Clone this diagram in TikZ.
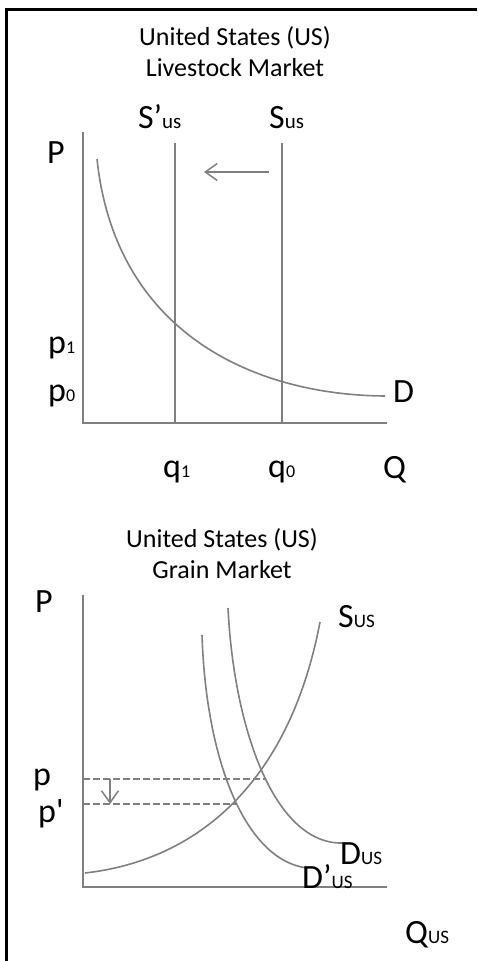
\documentclass[tikz,border=0pt]{standalone}
\usepackage{fontspec}
\setmainfont{Carlito}
\usetikzlibrary{arrows.meta}
\definecolor{ln}{HTML}{808080}
\newcommand\LabF{\fontsize{34}{34}\selectfont}
\newcommand\SubF{\fontsize{21}{21}\selectfont}
\newcommand\NumF{\fontsize{18}{18}\selectfont}
\newcommand\CapF{\fontsize{19}{19}\selectfont}
\newcommand\TitF{\fontsize{26}{30}\selectfont}
\begin{document}
\begin{tikzpicture}[x=1pt,y=-1pt,
 lab/.style={anchor=base west,inner sep=0pt,text=black,font=\LabF},
 title/.style={anchor=base,inner sep=0pt,font=\TitF},
 axis/.style={draw=ln,line width=2pt},
 curve/.style={draw=ln,line width=1.6pt},
 guide/.style={draw=ln,line width=1.5pt,dash pattern=on 7pt off 3pt},
 shiftarrow/.style={draw=ln,line width=1.5pt,-{Straight Barb[length=12pt,width=17pt]}},
 frame/.style={draw=black,line width=3pt}]
\useasboundingbox (0,0) rectangle (477,961);
\fill[white] (0,0) rectangle (477,961);
\draw[frame] (6.5,961) -- (6.5,9.5) -- (477,9.5);

% ---------- Livestock market ----------
\node[title] (t1a) at (235,45) {United States (US)};
\node[title] (t1b) at (235,76) {Livestock Market};
\coordinate (ytop1) at (83,132);
\coordinate (o1) at (83,423);
\coordinate (xend1) at (387,423);
\draw[axis] (ytop1) -- (o1) -- (xend1);
\coordinate (s1t) at (175,143); \coordinate (s1b) at (175,423);
\coordinate (s0t) at (282,143); \coordinate (s0b) at (282,423);
\draw[curve] (s1t) -- (s1b);
\draw[curve] (s0t) -- (s0b);
\coordinate (a1s) at (269,172); \coordinate (a1e) at (204,172);
\draw[shiftarrow] (a1s) -- (a1e);
\coordinate (d1s) at (97,159); \coordinate (d1e) at (385,396);
\draw[curve] (d1s) .. controls (115,330) and (250,395) .. (d1e);

\node[lab] (P1) at (47,163) {P};
\node[lab] (Sp1) at (138,128) {S’{\SubF us}};
\node[lab] (S1) at (269,128) {S{\SubF us}};
\node[lab] (p1) at (48,353) {p{\NumF 1}};
\node[lab] (p0) at (48,401) {p{\NumF 0}};
\node[lab] (D1) at (393,402) {D};
\node[lab] (q1) at (163,477) {q{\NumF 1}};
\node[lab] (q0) at (268,477) {q{\NumF 0}};
\node[lab] (Q1) at (383,478) {Q};

% ---------- Grain market ----------
\node[title] (t2a) at (222,547) {United States (US)};
\node[title] (t2b) at (222,578) {Grain Market};
\coordinate (ytop2) at (83,595);
\coordinate (o2) at (83,887);
\coordinate (xend2) at (387,887);
\draw[axis] (ytop2) -- (o2) -- (xend2);
\coordinate (ss) at (85,873); \coordinate (se) at (320,622);
\draw[curve] (ss) .. controls (200,860) and (290,780) .. (se);
\coordinate (ds) at (228,608); \coordinate (de) at (343,843);
\draw[curve] (ds) .. controls (234,730) and (275,845) .. (de);
\coordinate (dps) at (202,635); \coordinate (dpe) at (307,868);
\draw[curve] (dps) .. controls (206,760) and (245,860) .. (dpe);
\coordinate (pl) at (83,779); \coordinate (pr) at (265,779);
\coordinate (ppl) at (83,804); \coordinate (ppr) at (237,804);
\draw[guide] (pl) -- (pr);
\draw[guide] (ppl) -- (ppr);
\coordinate (a2s) at (110,779); \coordinate (a2e) at (110,804);
\draw[shiftarrow] (a2s) -- (a2e);

\node[lab] (P2) at (35,612) {P};
\node[lab] (S2) at (338,627) {S{\CapF US}};
\node[lab] (p2) at (33,785) {p};
\node[lab] (pp2) at (38,822) {p\textquotesingle};
\node[lab] (D2) at (340,864) {D{\CapF US}};
\node[lab] (Dp2) at (302,888) {D’{\CapF US}};
\node[lab] (Q2) at (405,943) {Q{\CapF US}};
\end{tikzpicture}
\end{document}
